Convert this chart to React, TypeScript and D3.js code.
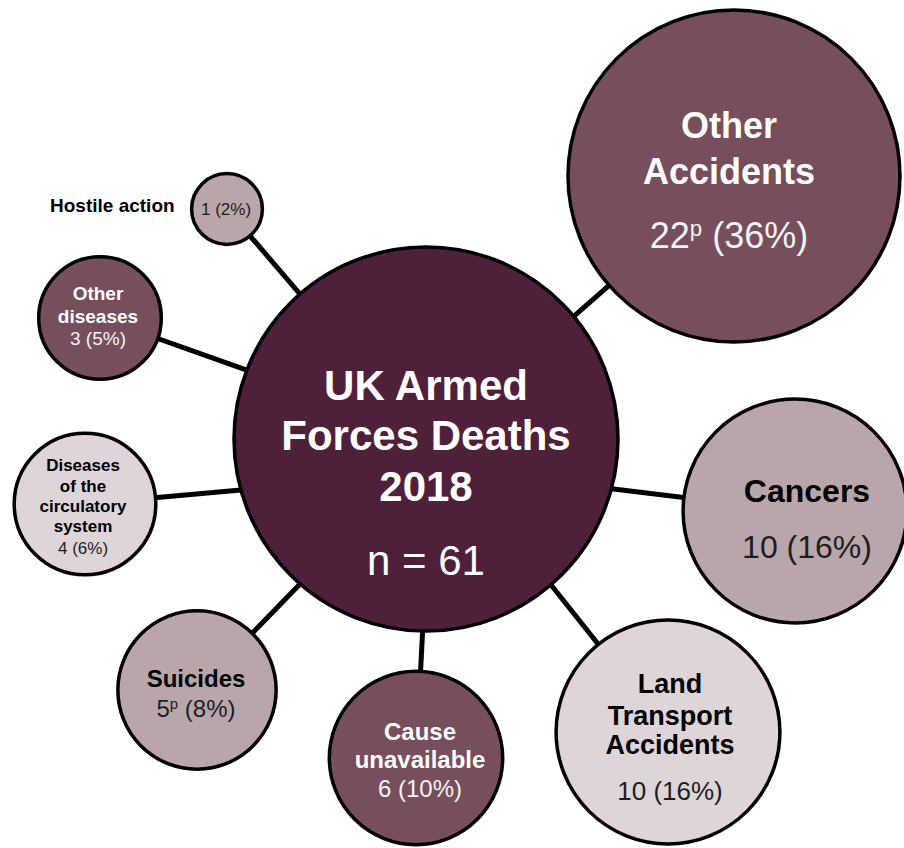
import React from "react";
import * as d3 from "d3";

// ---- data ----
const categories = [
  "Other Accidents",
  "Cancers",
  "Land Transport Accidents",
  "Cause unavailable",
  "Suicides",
  "Diseases of the circulatory system",
  "Other diseases",
  "Hostile action",
];
const deaths = [22, 10, 10, 6, 5, 4, 3, 1];
const percents = [36, 16, 16, 10, 8, 6, 5, 2];
const provisional = [true, false, false, false, true, false, false, false];
const totalDeaths = 61;
const year = 2018;
const centreTitle = ["UK Armed", "Forces Deaths", String(year)];

// ---- layout (separate from data) ----
const W = 904;
const H = 848;
const centre = { x: 426, y: 439, r: 192 };
// satellite centres
const positions: [number, number][] = [
  [734, 176],
  [795, 511],
  [668, 732],
  [416, 758],
  [197, 690],
  [85, 504],
  [100, 318],
  [227, 209],
];
// angle (degrees) where each connector meets the central circle
const linkAngles = [-39.7, 15, 49.4, 91, 131, 164.6, 201, 229];
// label lines inside the bubbles
const labelLines: string[][] = [
  ["Other", "Accidents"],
  ["Cancers"],
  ["Land", "Transport", "Accidents"],
  ["Cause", "unavailable"],
  ["Suicides"],
  ["Diseases", "of the", "circulatory", "system"],
  ["Other", "diseases"],
  [],
];
// baseline offsets relative to bubble centre for label lines and value line
const labelOffsets: number[][] = [
  [-38, 8],
  [-9],
  [-39, -7, 22],
  [-18, 10],
  [-3],
  [-33, -12, 8, 28],
  [-18, 5],
  [],
];
const valueOffsets = [72, 47, 68, 39, 27, 50, 27, 6];
const textDx = [-5, 12, 2, 4, -1, -2, -2, -1];
const labelSizes = [36, 32, 27, 24, 24, 17, 19, 19];
const valueSizes = [36, 32, 26, 24, 24, 17, 19, 17];
const fills = [
  "#774f5c",
  "#b9a6ab",
  "#ddd5d8",
  "#774f5c",
  "#b9a6ab",
  "#ddd5d8",
  "#774f5c",
  "#b9a6ab",
];
const darkFills = new Set(["#774f5c"]);

const FONT = "'Liberation Sans', Arial, Helvetica, sans-serif";

export default function App() {
  const rScale = d3.scaleSqrt().domain([0, 22]).range([0, 166]);

  const nodes = categories.map((c, i) => ({
    name: c,
    value: deaths[i],
    pct: percents[i],
    prov: provisional[i],
    x: positions[i][0],
    y: positions[i][1],
    r: rScale(deaths[i]),
    fill: fills[i],
    dark: darkFills.has(fills[i]),
    i,
  }));

  const lineGen = d3.line();

  return (
    <svg
      width={W}
      height={H}
      viewBox={`0 0 ${W} ${H}`}
      style={{ position: "absolute", left: 0, top: 0, background: "#fff" }}
      fontFamily={FONT}
    >
      {/* connectors */}
      {nodes.map((n) => {
        const a = (linkAngles[n.i] * Math.PI) / 180;
        const sx = centre.x + centre.r * Math.cos(a);
        const sy = centre.y + centre.r * Math.sin(a);
        return (
          <path
            key={"l" + n.i}
            d={lineGen([
              [sx, sy],
              [n.x, n.y],
            ]) as string}
            stroke="#000"
            strokeWidth={5}
            fill="none"
          />
        );
      })}

      {/* centre */}
      <circle cx={centre.x} cy={centre.y} r={centre.r} fill="#4f203a" stroke="#000" strokeWidth={3.5} />
      {centreTitle.map((t, k) => (
        <text
          key={"ct" + k}
          x={centre.x}
          y={centre.y + [-39, 11, 62][k]}
          textAnchor="middle"
          fill="#fff"
          fontWeight="bold"
          fontSize={42}
        >
          {t}
        </text>
      ))}
      <text x={centre.x} y={centre.y + 136} textAnchor="middle" fill="#fff" fontSize={42}>
        {`n = ${totalDeaths}`}
      </text>

      {/* satellites */}
      {nodes.map((n) => {
        const col = n.dark ? "#fff" : "#000";
        const valCol = n.dark ? "#f2f2f2" : "#1e1e1e";
        const vs = valueSizes[n.i];
        return (
          <g key={"n" + n.i}>
            <circle cx={n.x} cy={n.y} r={n.r} fill={n.fill} stroke="#000" strokeWidth={3.5} />
            {labelLines[n.i].map((t, k) => (
              <text
                key={k}
                x={n.x + textDx[n.i]}
                y={n.y + labelOffsets[n.i][k]}
                textAnchor="middle"
                fill={col}
                fontWeight="bold"
                fontSize={labelSizes[n.i]}
              >
                {t}
              </text>
            ))}
            <text
              x={n.x + textDx[n.i]}
              y={n.y + valueOffsets[n.i]}
              textAnchor="middle"
              fill={valCol}
              fontSize={vs}
            >
              {String(n.value)}
              {n.prov ? (
                <>
                  <tspan fontSize={vs * 0.62} dy={-vs * 0.32}>
                    p
                  </tspan>
                  <tspan dy={vs * 0.32}>{` (${n.pct}%)`}</tspan>
                </>
              ) : (
                <tspan>{` (${n.pct}%)`}</tspan>
              )}
            </text>
          </g>
        );
      })}

      {/* outside label for the smallest bubble */}
      <text
        x={nodes[7].x - nodes[7].r - 17}
        y={nodes[7].y + 3}
        textAnchor="end"
        fill="#000"
        fontWeight="bold"
        fontSize={labelSizes[7]}
      >
        {categories[7]}
      </text>
    </svg>
  );
}
